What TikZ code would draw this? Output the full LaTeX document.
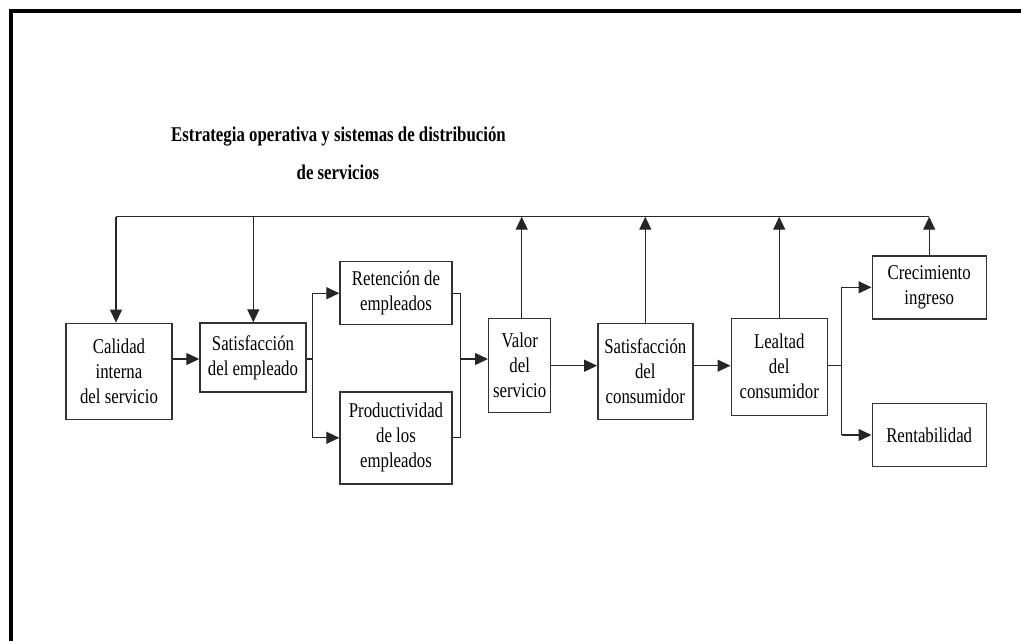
\documentclass[tikz,border=0pt]{standalone}
\usepackage{fontspec}
\setmainfont{Liberation Serif}[FakeStretch=0.8]
\usetikzlibrary{arrows.meta}

\begin{document}
\begin{tikzpicture}[x=1pt,y=-1pt,
  txt/.style={font=\fontsize{21}{25}\selectfont},
  blk/.style 2 args={draw=black!80, line width=1.4pt, inner sep=0pt, align=center,
    minimum width=#1pt, minimum height=#2pt, txt},
  conn/.style={draw=black!85, line width=1.3pt},
  arr/.style={conn, -{Triangle[length=13pt,width=12pt]}}
]
\useasboundingbox (0,0) rectangle (1021,641);

% frame (top and left edges)
\draw[line width=4pt] (11.3,641) -- (11.3,11.3) -- (1021,11.3);

% heading
\node[txt, font=\fontsize{21}{25}\selectfont\bfseries, anchor=base] (head1) at (338.5,141)
  {Estrategia operativa y sistemas de distribución};
\node[txt, font=\fontsize{21}{25}\selectfont\bfseries, anchor=base] (head2) at (338,179)
  {de servicios};

% boxes
\node[blk={106}{96}] (cal)  at (119,371.3)   {Calidad\\interna\\del servicio};
\node[blk={106}{69}] (semp) at (253,357.5)   {Satisfacción\\del empleado};
\node[blk={112}{63}] (ret)  at (396,293.2)   {Retención de\\empleados};
\node[blk={112}{92}] (prod) at (396,437.8)   {Productividad\\de los\\empleados};
\node[blk={62}{94}]  (val)  at (519.7,365.2) {Valor\\del\\servicio};
\node[blk={95}{96}]  (scon) at (645.3,371.3) {Satisfacción\\del\\consumidor};
\node[blk={96}{97}]  (leal) at (779.2,366.7) {Lealtad\\del\\consumidor};
\node[blk={114}{63}] (crec) at (929.2,287.3) {Crecimiento\\ingreso};
\node[blk={114}{63}] (rent) at (929.2,435)   {Rentabilidad};

% junction points
\coordinate (fbL) at (116,216.7);
\coordinate (fb2) at (253.3,216.7);
\coordinate (fbR) at (929.3,216.7);
\coordinate (r1) at (0,359);
\coordinate (r2) at (0,365.7);
\coordinate (s1) at (312.7,359);
\coordinate (s2) at (460.3,359);
\coordinate (s3) at (841.7,365.7);

% feedback line from strategy
\draw[conn] (fbL) -- (fbR);
\draw[arr] (fbL) -- (fbL |- cal.north);
\draw[arr] (fb2) -- (fb2 |- semp.north);
\draw[arr] ([xshift=2pt]val.north) -- ([xshift=2pt]val.north |- fbL);
\draw[arr] (scon.north) -- (scon.north |- fbL);
\draw[arr] (leal.north) -- (leal.north |- fbL);
\draw[arr] (crec.north) -- (crec.north |- fbL);

% main chain
\draw[arr] (cal.east |- r1) -- (semp.west |- r1);
\draw[conn] (semp.east |- s1) -- (s1);
\draw[conn] (s1 |- ret.west) -- (s1 |- prod.west);
\draw[arr] (s1 |- ret.west) -- (ret.west);
\draw[arr] (s1 |- prod.west) -- (prod.west);
\draw[conn] (ret.east) -- (ret.east -| s2) -- (prod.east -| s2) -- (prod.east);
\draw[arr] (s2) -- (val.west |- s2);
\draw[arr] (val.east |- r2) -- (scon.west |- r2);
\draw[arr] (scon.east |- r2) -- (leal.west |- r2);
\draw[conn] (leal.east |- s3) -- (s3);
\draw[conn] (s3 |- crec.west) -- (s3 |- rent.west);
\draw[arr] (s3 |- crec.west) -- (crec.west);
\draw[arr] (s3 |- rent.west) -- (rent.west);
\end{tikzpicture}
\end{document}
